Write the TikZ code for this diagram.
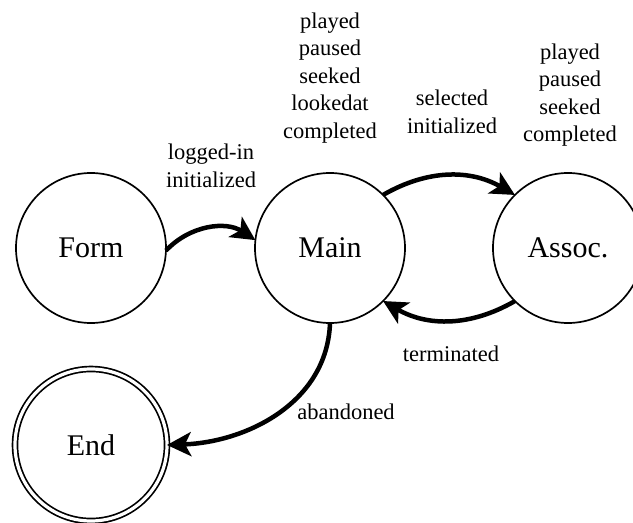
\documentclass[tikz,border=0pt]{standalone}
\usepackage{fontspec}
\setmainfont{Liberation Serif}
\usetikzlibrary{arrows.meta}
\tikzset{
  state/.style={circle, draw, line width=1.7pt, minimum size=150pt, inner sep=0pt, outer sep=0pt, font=\fontsize{30}{36}\selectfont},
  final/.style={state, double, double distance=3.2pt, minimum size=152pt},
  lbl/.style={align=center, inner sep=0pt, font=\fontsize{22.5}{27.5}\selectfont},
  trans/.style={line width=4.5pt, -{Stealth[length=24pt, width=24pt, inset=6pt]}}
}
\begin{document}
\begin{tikzpicture}[x=1pt, y=1pt]
\useasboundingbox (0,0) rectangle (633,523);
\node[state] (form) at (91,275) {Form};
\node[state] (main) at (330,275) {Main};
\node[state] (assoc) at (568,275) {Assoc.};
\node[final] (end) at (91,78) {End};

\node[lbl] (l1) at (211,357) {logged-in\\initialized};
\node[lbl] (l2) at (330,445) {played\\paused\\seeked\\lookedat\\completed};
\node[lbl] (l3) at (452,411) {selected\\initialized};
\node[lbl] (l4) at (570,428) {played\\paused\\seeked\\completed};
\node[lbl] (l5) at (451,169) {terminated};
\node[lbl] (l6) at (346,111) {abandoned};

\draw[trans] (form.-2) to[bend left=40] (main.174);
\draw[trans] (main.45) to[bend left=30] (assoc.135);
\draw[trans] (assoc.-135) to[bend left=30] (main.-45);
\draw[trans] (main.-90) to[out=-92, in=2] (end.0);
\end{tikzpicture}
\end{document}
